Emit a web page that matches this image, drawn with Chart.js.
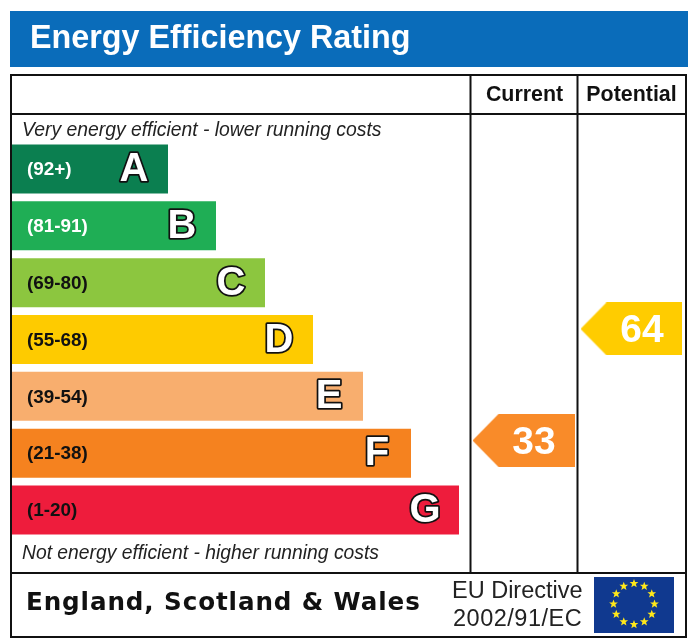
<!DOCTYPE html>
<html>
<head>
<meta charset="utf-8">
<title>Energy Efficiency Rating</title>
<script src="https://cdn.jsdelivr.net/npm/chart.js@4"></script>
<style>
html, body { margin: 0; padding: 0; background: #fff; }
canvas { display: block; }
</style>
</head>
<body>
<canvas id="epc" width="700" height="642"></canvas>
<script>
// chart values
var bandLetters = ["A", "B", "C", "D", "E", "F", "G"];
var bandRanges = ["(92+)", "(81-91)", "(69-80)", "(55-68)", "(39-54)", "(21-38)", "(1-20)"];
var bandLengths = [156, 204, 253, 301, 351, 399, 447];
var currentRating = [33];
var potentialRating = [64];
var columnNames = ["Current", "Potential"];

// styles and layout
var bandColors = ["#0b7f50", "#1fae55", "#8cc63f", "#fecb00", "#f8ae6e", "#f5821f", "#ee1c3c"];
var bandTextColors = ["#fff", "#fff", "#111", "#111", "#111", "#111", "#111"];
var currentColor = "#f98b29";
var potentialColor = "#ffcc00";
var columnX = { Current: 511.5, Potential: 619.5 };
var sansFont = '"Liberation Sans", Arial, sans-serif';

function arrowCanvas(color) {
	var c = document.createElement("canvas");
	c.width = 102;
	c.height = 53;
	var g = c.getContext("2d");
	g.fillStyle = color;
	g.beginPath();
	g.moveTo(0, 26.5);
	g.lineTo(26, 0);
	g.lineTo(102, 0);
	g.lineTo(102, 53);
	g.lineTo(26, 53);
	g.closePath();
	g.fill();
	return c;
}

function drawStar(ctx, cx, cy, r) {
	ctx.beginPath();
	for (var i = 0; i < 10; i++) {
		var a = -Math.PI / 2 + i * Math.PI / 5;
		var rr = i % 2 ? r * 0.42 : r;
		ctx.lineTo(cx + rr * Math.cos(a), cy + rr * Math.sin(a));
	}
	ctx.closePath();
	ctx.fill();
}

function put(ctx, str, x, y, font, color, align) {
	ctx.font = font;
	ctx.fillStyle = color;
	ctx.textAlign = align || "left";
	ctx.textBaseline = "middle";
	ctx.fillText(str, x, y);
}

var framePlugin = {
	id: "frame",
	beforeDatasetsDraw: function (chart) {
		var ctx = chart.ctx;
		ctx.save();
		// title strip
		ctx.fillStyle = "#0a6cba";
		ctx.fillRect(10, 11, 678, 56);
		put(ctx, "Energy Efficiency Rating", 30, 39.5, "bold 32.3px " + sansFont, "#fff");

		// table lines
		ctx.strokeStyle = "#111";
		ctx.lineWidth = 2;
		ctx.strokeRect(11, 75, 675, 562);
		ctx.beginPath();
		ctx.moveTo(11, 114); ctx.lineTo(686, 114);
		ctx.moveTo(11, 573); ctx.lineTo(686, 573);
		ctx.moveTo(470.5, 75); ctx.lineTo(470.5, 573);
		ctx.moveTo(577.5, 75); ctx.lineTo(577.5, 573);
		ctx.stroke();

		put(ctx, columnNames[0], 524.5, 95.5, "bold 21.4px " + sansFont, "#111", "center");
		put(ctx, columnNames[1], 631.5, 95.5, "bold 21.4px " + sansFont, "#111", "center");

		put(ctx, "Very energy efficient - lower running costs", 22, 131, "italic 19.35px " + sansFont, "#222");
		put(ctx, "Not energy efficient - higher running costs", 22, 553.5, "italic 19.3px " + sansFont, "#222");

		// footer
		ctx.letterSpacing = "0.9px";
		put(ctx, "England, Scotland & Wales", 26, 604, 'bold 24.6px "DejaVu Sans", Verdana, sans-serif', "#111");
		ctx.letterSpacing = "0px";
		put(ctx, "EU Directive", 452, 591.5, "23.5px " + sansFont, "#222");
		ctx.letterSpacing = "0.5px";
		put(ctx, "2002/91/EC", 453, 619.5, "23.5px " + sansFont, "#222");
		ctx.letterSpacing = "0px";

		// EU flag
		ctx.fillStyle = "#10398f";
		ctx.fillRect(594, 577, 80, 56);
		ctx.fillStyle = "#ffe81a";
		for (var i = 0; i < 12; i++) {
			var a = i * Math.PI / 6;
			drawStar(ctx, 634 + 20.5 * Math.sin(a), 604 - 20.5 * Math.cos(a), 4.6);
		}
		ctx.restore();
	},
	afterDatasetsDraw: function (chart) {
		var ctx = chart.ctx;
		ctx.save();
		// band labels and letters sit on the bars
		chart.getDatasetMeta(0).data.forEach(function (bar, i) {
			put(ctx, bandRanges[i], 27, bar.y + 1, "bold 18.9px " + sansFont, bandTextColors[i]);
			ctx.font = "bold 40px " + sansFont;
			ctx.textAlign = "center";
			ctx.textBaseline = "middle";
			ctx.lineJoin = "round";
			ctx.lineWidth = 3.5;
			ctx.strokeStyle = "#111";
			ctx.fillStyle = "#fff";
			ctx.strokeText(bandLetters[i], bar.x - 34, bar.y + 1);
			ctx.fillText(bandLetters[i], bar.x - 34, bar.y + 1);
		});
		// rating numbers on the arrows
		[1, 2].forEach(function (d) {
			var pt = chart.getDatasetMeta(d).data[0];
			var val = chart.data.datasets[d].data[0].y;
			put(ctx, String(val), pt.x + 10.5, pt.y + 2.5, "bold 39px " + sansFont, "#fff", "center");
		});
		ctx.restore();
	}
};

var epcChart = new Chart(document.getElementById("epc"), {
	type: "bar",
	data: {
		labels: bandLetters,
		datasets: [
			{
				indexAxis: "y",
				data: bandLengths,
				backgroundColor: bandColors,
				borderWidth: 0,
				categoryPercentage: 1,
				barPercentage: 0.863,
				xAxisID: "x",
				yAxisID: "y"
			},
			{
				type: "scatter",
				data: currentRating.map(function (v) { return { x: columnX.Current, y: v }; }),
				pointStyle: arrowCanvas(currentColor),
				xAxisID: "x",
				yAxisID: "yRating"
			},
			{
				type: "scatter",
				data: potentialRating.map(function (v) { return { x: columnX.Potential, y: v }; }),
				pointStyle: arrowCanvas(potentialColor),
				xAxisID: "x",
				yAxisID: "yRating"
			}
		]
	},
	options: {
		responsive: false,
		animation: false,
		layout: { autoPadding: false, padding: { left: 12, right: 18, top: 140.6, bottom: 103.6 } },
		plugins: {
			legend: { display: false },
			title: { display: false },
			tooltip: { enabled: false }
		},
		scales: {
			x: { type: "linear", min: 0, max: 670, offset: false, display: false },
			y: { type: "category", offset: true, display: false },
			yRating: { type: "linear", min: 5.8, max: 116.3, display: false }
		}
	},
	plugins: [framePlugin]
});
</script>
</body>
</html>
